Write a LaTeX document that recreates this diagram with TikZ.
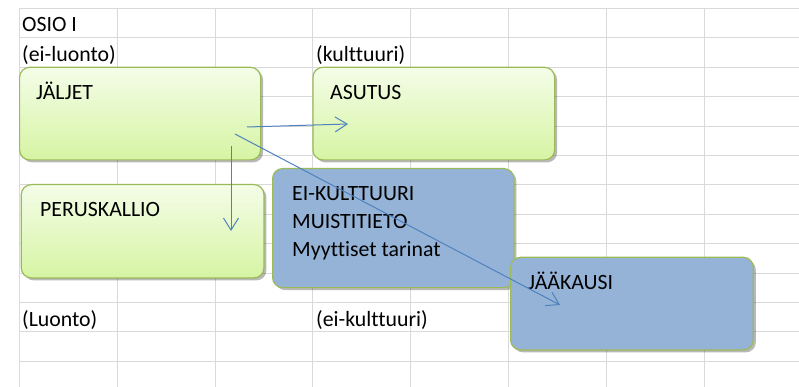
\documentclass[tikz,border=0pt]{standalone}
\usepackage{fontspec}
\setmainfont{Carlito}[Ligatures=NoCommon]
\usetikzlibrary{arrows.meta,shadows}
\definecolor{gridc}{HTML}{D9D9D9}
\definecolor{boxedge}{HTML}{9BBB59}
\definecolor{greentop}{HTML}{F4FDE8}
\definecolor{greenbot}{HTML}{D6F4A3}
\definecolor{bluefill}{HTML}{95B3D7}
\definecolor{arrowc}{HTML}{4F81BD}
\tikzset{
  gridline/.style={draw=gridc, line width=1.6pt},
  boxbase/.style={draw=boxedge, line width=1.2pt, rounded corners=10pt, anchor=north west, inner sep=0pt,
    drop shadow={shadow xshift=2.5pt, shadow yshift=-2.5pt, opacity=0.28, fill=black}},
  greenbox/.style={boxbase, top color=greentop, bottom color=greenbot},
  bluebox/.style={boxbase, fill=bluefill},
  lbl/.style={anchor=base west, inner sep=0pt, font=\fontsize{21.8}{28}\selectfont},
  conn/.style={draw=arrowc, line width=1pt, -{Straight Barb[length=12pt,width=15pt]}}
}
\begin{document}
\begin{tikzpicture}[x=1pt,y=-1pt]
\useasboundingbox (0,0) rectangle (799,387);
% spreadsheet grid
\foreach \r in {8,37,67,96,126,155,184,214,243,273,302,331,361} {
  \draw[gridline] (18.5,\r+0.5) -- (799,\r+0.5);
}
\foreach \c in {19,117,215,312,410,508,606,704} {
  \draw[gridline] (\c+0.5,8) -- (\c+0.5,387);
}
% cell texts
\node[lbl] (osio) at (22,31.7) {OSIO I};
\node[lbl] (eiluonto) at (22,61.5) {(ei-luonto)};
\node[lbl] (kulttuuri) at (316,61.5) {(kulttuuri)};
\node[lbl] (luonto) at (22,326) {(Luonto)};
\node[lbl] (eikulttuuri) at (316,326) {(ei-kulttuuri)};
% boxes
\node[greenbox, minimum width=241pt, minimum height=92.6pt] (jaljet) at (19,66.7) {};
\node[greenbox, minimum width=241.7pt, minimum height=92.6pt] (asutus) at (312.3,66.7) {};
\node[greenbox, minimum width=242.6pt, minimum height=93.3pt] (perus) at (20.7,184) {};
\node[bluebox, minimum width=241.3pt, minimum height=119pt] (muisti) at (272,168) {};
\node[bluebox, minimum width=242.7pt, minimum height=92.6pt] (jaakausi) at (510,256.7) {};
% box texts
\node[lbl] (tjaljet) at (36,100) {JÄLJET};
\node[lbl] (tasutus) at (330,100) {ASUTUS};
\node[lbl] (tperus) at (40,216.7) {PERUSKALLIO};
\node[lbl] (tei) at (292,200.7) {EI-KULTTUURI};
\node[lbl] (tmuisti) at (292,229) {MUISTITIETO};
\node[lbl] (tmyyt) at (292,256) {Myyttiset tarinat};
\node[lbl] (tjaa) at (528,289) {JÄÄKAUSI};
% connector end points
\coordinate (h1) at (247,127);
\coordinate (h2) at (348,124);
\coordinate (v1) at (231,146);
\coordinate (v2) at (231,231);
\coordinate (d1) at (235,134);
\coordinate (d2) at (560,305);
\draw[conn] (h1) -- (h2);
\draw[conn] (v1) -- (v2);
\draw[conn] (d1) -- (d2);
\end{tikzpicture}
\end{document}
